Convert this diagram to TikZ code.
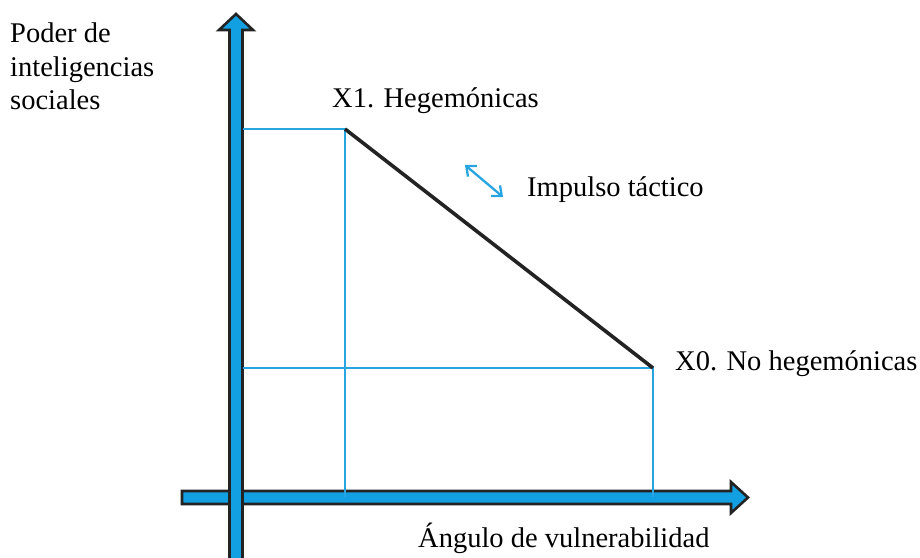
\documentclass[tikz,border=0pt]{standalone}
\usepackage{fontspec}
\setmainfont{Liberation Serif}
\usetikzlibrary{arrows.meta}
\definecolor{axblue}{RGB}{18,160,226}
\definecolor{lnblue}{RGB}{40,165,225}
\definecolor{axdark}{RGB}{35,35,35}
\tikzset{
  lbl/.style={anchor=base west,inner sep=0pt,font=\fontsize{28.5}{33.5}\selectfont},
  axisbody/.style={fill=axblue,draw=axdark,line width=2.6pt,line join=miter},
  guide/.style={draw=lnblue,line width=1.8pt},
  trend/.style={draw=axdark,line width=3.6pt},
  impulse/.style={draw=lnblue,line width=2.3pt,{Straight Barb[length=8pt,width=14pt]}-{Straight Barb[length=8pt,width=14pt]}}
}
\begin{document}
\begin{tikzpicture}[x=1pt,y=-1pt]
\useasboundingbox (0,0) rectangle (920,557);
% points
\coordinate (X1) at (345,129);
\coordinate (X0) at (653,368);
\coordinate (Y1) at (243,129);
\coordinate (Y0) at (243,368);
\coordinate (B1) at (345,497);
\coordinate (B0) at (653,497);
\coordinate (IA) at (465,165);
\coordinate (IB) at (503,197);
% horizontal axis
\path[axisbody] (182,491) -- (731,491) -- (731,482) -- (748,497.5) -- (731,513) -- (731,504) -- (182,504) -- cycle;
% vertical axis
\path[axisbody] (229.5,565) -- (229.5,30) -- (219,30) -- (236,14) -- (253,30) -- (242.5,30) -- (242.5,565) -- cycle;
% guide lines
\draw[guide] (Y1) -- (X1) -- (B1);
\draw[guide] (Y0) -- (X0) -- (B0);
% trend
\draw[trend] (X1) -- (X0);
% impulse arrow
\draw[impulse] (IA) -- (IB);
% labels
\node[lbl] (ylab) at (10,42) {Poder de};
\node[lbl] (ylab2) at (10,76) {inteligencias};
\node[lbl] (ylab3) at (10,109) {sociales};
\node[lbl] (x1lab) at (332,107) {X1. Hegemónicas};
\node[lbl] (implab) at (527,196) {Impulso táctico};
\node[lbl] (x0lab) at (675,370) {X0. No hegemónicas};
\node[lbl] (xlab) at (418,547) {Ángulo de vulnerabilidad};
\end{tikzpicture}
\end{document}
